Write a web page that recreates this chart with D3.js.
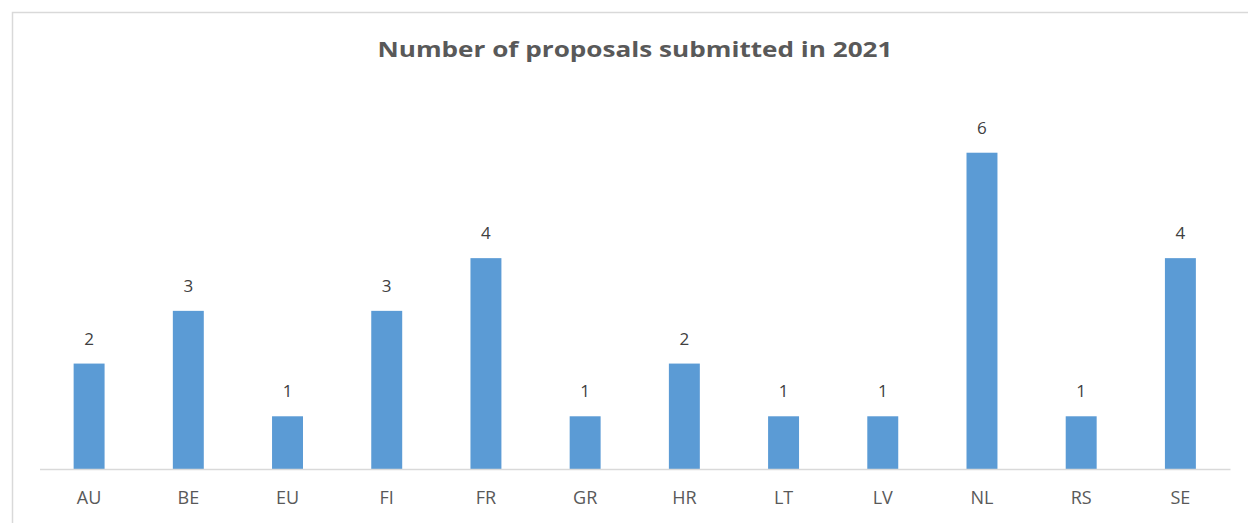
<!DOCTYPE html>
<html>
<head>
<meta charset="utf-8">
<script src="https://cdn.jsdelivr.net/npm/d3@7"></script>
<style>
  body { margin: 0; background: #fff; }
  text { font-family: "Open Sans", "Liberation Sans", sans-serif; }
</style>
</head>
<body>
<div id="chart"></div>
<script>
// Datos del gráfico
const countries = ["AU", "BE", "EU", "FI", "FR", "GR", "HR", "LT", "LV", "NL", "RS", "SE"];
const proposals = [2, 3, 1, 3, 4, 1, 2, 1, 1, 6, 1, 4];
const chartTitle = "Number of proposals submitted in 2021";

const width = 1248;
const height = 523;

const svg = d3.select("#chart")
    .append("svg")
    .attr("width", width)
    .attr("height", height);

// Marco del gráfico
svg.append("rect")
    .attr("x", 12.5)
    .attr("y", 12.5)
    .attr("width", width)
    .attr("height", height)
    .attr("fill", "#fff")
    .attr("stroke", "#d9d9d9")
    .attr("stroke-width", 1.5);

// Escalas
const x = d3.scaleBand()
    .domain(countries)
    .range([39.5, 1230])
    .paddingInner(0.688)
    .paddingOuter(0.344);

const y = d3.scaleLinear()
    .domain([0, 7])
    .range([469, 100]);

const data = countries.map((c, i) => ({ country: c, value: proposals[i] }));

// Barras
svg.selectAll(".bar")
    .data(data)
    .enter()
    .append("rect")
    .attr("class", "bar")
    .attr("x", d => x(d.country))
    .attr("y", d => y(d.value))
    .attr("width", x.bandwidth())
    .attr("height", d => y(0) - y(d.value))
    .attr("fill", "#5b9bd5");

// Eje X
const xAxis = svg.append("g")
    .attr("transform", `translate(0,${y(0)})`)
    .call(d3.axisBottom(x).tickSize(0).tickPadding(35));

xAxis.select(".domain")
    .attr("stroke", "#d9d9d9")
    .attr("stroke-width", 1.5);

xAxis.selectAll("text")
    .attr("font-size", 18)
    .attr("fill", "#595959")
    .attr("dy", 0)
    .attr("font-family", "'Open Sans', sans-serif");

// Etiquetas de valores
svg.selectAll(".label")
    .data(data)
    .enter()
    .append("text")
    .attr("class", "label")
    .attr("x", d => x(d.country) + x.bandwidth() / 2)
    .attr("y", d => y(d.value) - 19)
    .attr("text-anchor", "middle")
    .attr("font-size", 17)
    .attr("fill", "#404040")
    .text(d => d.value);

// Título
svg.append("text")
    .attr("x", 635)
    .attr("y", 57)
    .attr("text-anchor", "middle")
    .attr("font-size", 21)
    .attr("font-weight", "bold")
    .attr("fill", "#595959")
    .attr("textLength", 515)
    .attr("lengthAdjust", "spacingAndGlyphs")
    .text(chartTitle);
</script>
</body>
</html>
